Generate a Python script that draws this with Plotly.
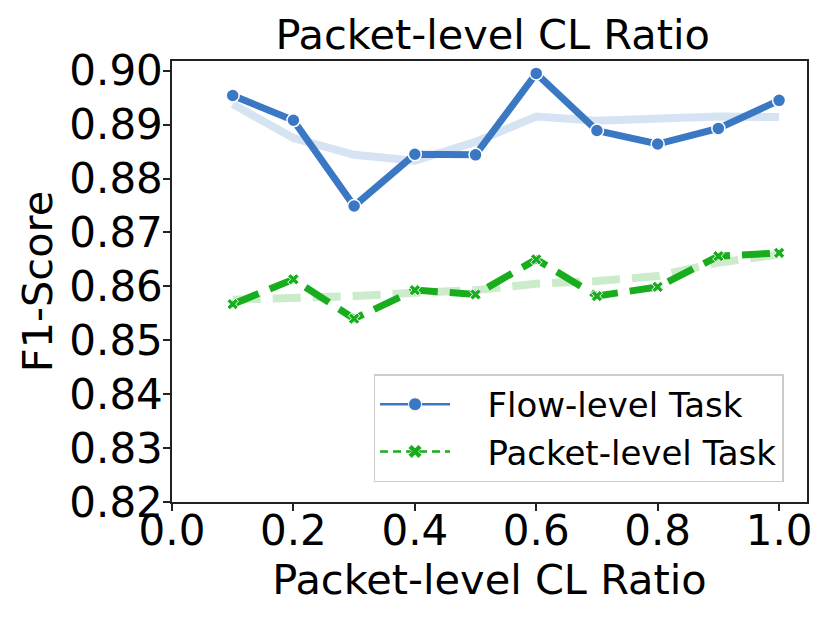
import plotly.graph_objects as go

# data
ratios = [0.1, 0.2, 0.3, 0.4, 0.5, 0.6, 0.7, 0.8, 0.9, 1.0]
flow_f1 = [0.8954, 0.8908, 0.8749, 0.8845, 0.8844, 0.8995, 0.8889, 0.8864, 0.8893, 0.8945]
flow_smooth = [0.8938, 0.8875, 0.8844, 0.8833, 0.8868, 0.8915, 0.8907, 0.8912, 0.8915, 0.8914]
packet_f1 = [0.8567, 0.8613, 0.8540, 0.8593, 0.8585, 0.8650, 0.8582, 0.8599, 0.8656, 0.8662]
packet_smooth = [0.8575, 0.8577, 0.8582, 0.8588, 0.8593, 0.8605, 0.8610, 0.8619, 0.8644, 0.8659]
y_ticks = [0.82, 0.83, 0.84, 0.85, 0.86, 0.87, 0.88, 0.89, 0.90]
x_ticks = [0.0, 0.2, 0.4, 0.6, 0.8, 1.0]

BLUE = "#3a78c3"
LIGHT_BLUE = "#d6e3f2"
GREEN = "#17ad1d"
LIGHT_GREEN = "#cbebcb"
FONT = "DejaVu Sans"

fig = go.Figure()

# smoothed trend lines underneath
fig.add_trace(go.Scatter(x=ratios, y=flow_smooth, mode="lines",
                         line=dict(color=LIGHT_BLUE, width=8),
                         showlegend=False, hoverinfo="skip"))
fig.add_trace(go.Scatter(x=ratios, y=packet_smooth, mode="lines",
                         line=dict(color=LIGHT_GREEN, width=8, dash="28px,12px"),
                         showlegend=False, hoverinfo="skip"))

# main lines
fig.add_trace(go.Scatter(x=ratios, y=flow_f1, mode="lines+markers",
                         line=dict(color=BLUE, width=7),
                         marker=dict(symbol="circle", size=13, color=BLUE,
                                     line=dict(color="white", width=1.5)),
                         showlegend=False))
fig.add_trace(go.Scatter(x=ratios, y=packet_f1, mode="lines+markers",
                         line=dict(color=GREEN, width=7, dash="28px,12px"),
                         marker=dict(symbol="x", size=10, color=GREEN,
                                     line=dict(color="white", width=1)),
                         showlegend=False))

# legend entries with thin lines like the reference
fig.add_trace(go.Scatter(x=[None], y=[None], mode="lines+markers",
                         name="   Flow-level Task",
                         line=dict(color=BLUE, width=2.5),
                         marker=dict(symbol="circle", size=13, color=BLUE,
                                     line=dict(color="white", width=1))))
fig.add_trace(go.Scatter(x=[None], y=[None], mode="lines+markers",
                         name="   Packet-level Task",
                         line=dict(color=GREEN, width=2.5, dash="8px,5px"),
                         marker=dict(symbol="x", size=12, color=GREEN,
                                     line=dict(color="white", width=0.5))))

axis_common = dict(showline=True, linecolor="#222222", linewidth=1.5, mirror=True,
                   ticks="outside", ticklen=7, tickwidth=1.5, tickcolor="#222222",
                   showgrid=False, zeroline=False, automargin=False,
                   tickfont=dict(family=FONT, size=42, color="black"))

# page body adds 8px offset, so the figure is 8px smaller than the window
fig.update_layout(
    width=822, height=615,
    margin=dict(l=164, r=23, t=53, b=121),
    plot_bgcolor="white", paper_bgcolor="white",
    title=dict(text="Packet-level CL Ratio", x=0.5896, xanchor="center",
               y=1 - 26 / 615, yanchor="middle", yref="container",
               font=dict(family=FONT, size=41.5, color="black")),
    xaxis=dict(range=[0, 1.046], tickvals=x_ticks, ticktext=["%.1f" % t for t in x_ticks],
               ticklabelstandoff=-16,
               title=dict(text="Packet-level CL Ratio", standoff=4,
                          font=dict(family=FONT, size=41.5, color="black")),
               **axis_common),
    yaxis=dict(range=[0.82, 0.9018], tickvals=y_ticks, ticktext=["%.2f" % t for t in y_ticks],
               ticklabelstandoff=-8,
               title=dict(text="F1-Score", standoff=4,
                          font=dict(family=FONT, size=41.5, color="black")),
               **axis_common),
    legend=dict(x=0.3174, y=0.29, xanchor="left", yanchor="top",
                bgcolor="white", bordercolor="#cccccc", borderwidth=1.5,
                font=dict(family=FONT, size=34, color="black"),
                itemwidth=70),
)

fig.write_html("out.html")
